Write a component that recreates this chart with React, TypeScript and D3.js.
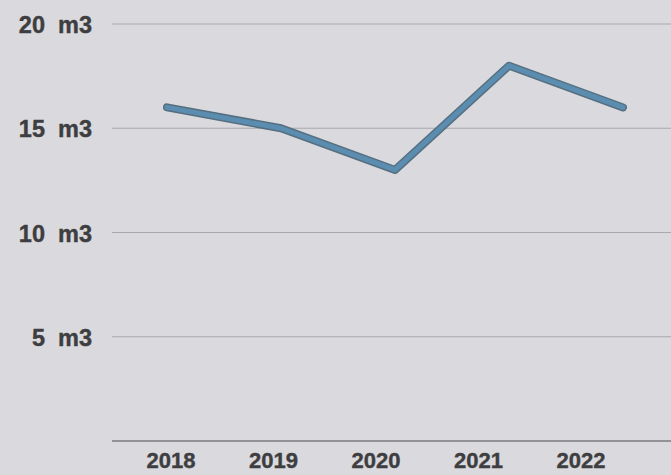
import * as d3 from 'd3';
import React from 'react';

const years = ['2018', '2019', '2020', '2021', '2022'];
const volumes = [16, 15, 13, 18, 16];
const yTicks = [5, 10, 15, 20];

const width = 671;
const height = 475;

const App: React.FC = () => {
  const y = d3.scaleLinear().domain([0, 20]).range([441, 24]);
  // the line points and the year labels are spaced a bit differently in the original
  const xLine = d3.scalePoint().domain(years).range([167, 623]);
  const xLabel = d3.scalePoint().domain(years).range([171, 581]);

  const line = d3
    .line<number>()
    .x((_, i) => xLine(years[i]) as number)
    .y((d) => y(d));
  const path = line(volumes) || '';

  return (
    <div style={{ position: 'fixed', left: 0, top: 0 }}>
      <svg width={width} height={height} style={{ display: 'block' }}>
        <rect width={width} height={height} fill='#d9d9de' />
        <g fontFamily='"Liberation Sans", Arial, sans-serif' fontWeight='bold' fill='#3e3e40'>
          {yTicks.map((t) => (
            <g key={t}>
              <line x1={112} x2={width} y1={y(t)} y2={y(t)} stroke='#a9a9ad' strokeWidth={1.2} />
              <text
                x={92}
                y={y(t) + 1}
                textAnchor='end'
                dominantBaseline='central'
                fontSize={23.5}
                stroke='#3e3e40'
                strokeWidth={0.4}
                style={{ whiteSpace: 'pre' }}
              >
                {`${t}  m3`}
              </text>
            </g>
          ))}
          <line x1={112} x2={width} y1={y(0)} y2={y(0)} stroke='#7a7a7e' strokeWidth={1.5} />
          {years.map((yr) => (
            <text key={yr} x={xLabel(yr)} y={468} textAnchor='middle' fontSize={22} stroke='#3e3e40' strokeWidth={0.4}>
              {yr}
            </text>
          ))}
        </g>
        <path d={path} fill='none' stroke='#566f80' strokeWidth={8} strokeLinejoin='round' strokeLinecap='round' />
        <path d={path} fill='none' stroke='#5b8db0' strokeWidth={5} strokeLinejoin='round' strokeLinecap='round' />
      </svg>
    </div>
  );
};

export default App;
